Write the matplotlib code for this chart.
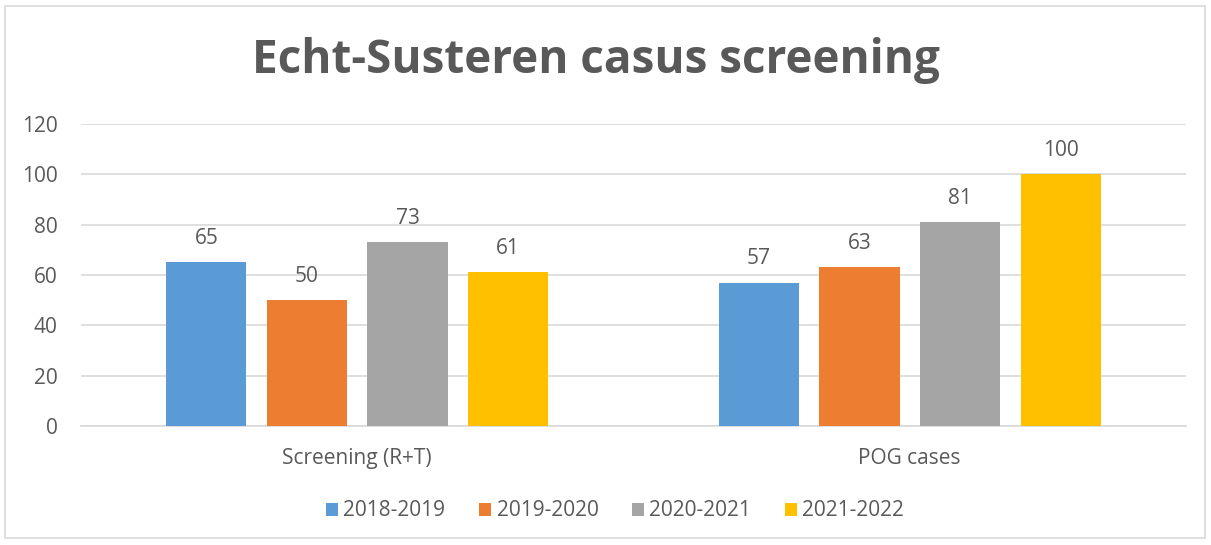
import matplotlib
matplotlib.use("Agg")
import matplotlib.pyplot as plt
import numpy as np
from matplotlib.patches import Rectangle

categories = ["Screening (R+T)", "POG cases"]
series = ["2018-2019", "2019-2020", "2020-2021", "2021-2022"]
values = {
    "2018-2019": [65, 57],
    "2019-2020": [50, 63],
    "2020-2021": [73, 81],
    "2021-2022": [61, 100],
}
colors = ["#5B9BD5", "#ED7D31", "#A5A5A5", "#FFC000"]
title = "Echt-Susteren casus screening"

plt.rcParams['font.family'] = ['Open Sans', 'DejaVu Sans']
txt = "#595959"
fs = 15

fig = plt.figure(figsize=(12.11, 5.45), dpi=100)
fig.patches.append(Rectangle((5/1211, 1 - 538/545), 1200/1211, 532/545, transform=fig.transFigure,
                             fill=False, edgecolor="#D9D9D9", linewidth=1.2))
ax = fig.add_axes([81/1211, 1 - 426/545, 1105/1211, 302/545])

x = np.arange(len(categories))
w = 0.145
step = 0.182
for i, s in enumerate(series):
    pos = x + (i - 1.5) * step
    bars = ax.bar(pos, values[s], width=w, color=colors[i], label=s, zorder=3)
    for b, v in zip(bars, values[s]):
        ax.annotate(str(v), (b.get_x() + b.get_width() / 2, v), xytext=(0, 17),
                    textcoords="offset points", ha="center", va="center",
                    fontsize=fs, color=txt)

ax.set_xlim(-0.5, 1.5)
ax.set_ylim(0, 120)
ax.set_yticks(range(0, 121, 20))
ax.set_xticks(x)
ax.set_xticklabels(categories)
ax.tick_params(axis="both", length=0, labelsize=fs, labelcolor=txt)
ax.tick_params(axis="x", pad=16)
ax.tick_params(axis="y", pad=17)
ax.grid(axis="y", color="#D9D9D9", linewidth=1.2, zorder=0)
for sp in ["top", "right", "left"]:
    ax.spines[sp].set_visible(False)
ax.spines["bottom"].set_color("#D9D9D9")
ax.spines["bottom"].set_linewidth(1.2)

fig.text(596/1211, 1 - 60/545, title, ha="center", va="center", fontsize=33,
         fontweight="bold", color=txt)

fig.legend(loc="center", bbox_to_anchor=(615/1211, 1 - 511/545), ncol=4, frameon=False,
           fontsize=fs, labelcolor=txt, handlelength=0.6, handleheight=0.6,
           handletextpad=0.25, columnspacing=1.6)

fig.savefig("out.png", dpi=100, facecolor="white")
